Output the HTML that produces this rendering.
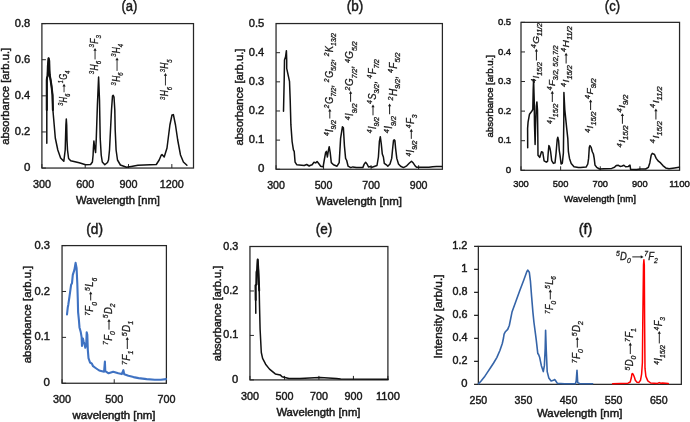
<!DOCTYPE html>
<html><head><meta charset="utf-8"><style>
html,body{margin:0;padding:0;background:#fff;}
svg{display:block;will-change:transform;filter:blur(0.3px);}
text{font-family:"Liberation Sans", sans-serif;stroke:#1a1a1a;stroke-width:0.45px;}
.an text{stroke-width:0.28px;}
</style></head><body>
<svg xmlns="http://www.w3.org/2000/svg" width="690" height="422" viewBox="0 0 690 422">
<rect width="690" height="422" fill="#fff"/>
<rect x="41.9" y="23.6" width="151.60" height="144.45" fill="none" stroke="#262626" stroke-width="1.25"/>
<line x1="41.90" y1="168.05" x2="45.90" y2="168.05" stroke="#262626" stroke-width="1"/>
<line x1="41.90" y1="131.94" x2="45.90" y2="131.94" stroke="#262626" stroke-width="1"/>
<line x1="41.90" y1="95.83" x2="45.90" y2="95.83" stroke="#262626" stroke-width="1"/>
<line x1="41.90" y1="59.71" x2="45.90" y2="59.71" stroke="#262626" stroke-width="1"/>
<line x1="41.90" y1="23.60" x2="45.90" y2="23.60" stroke="#262626" stroke-width="1"/>
<line x1="41.90" y1="168.05" x2="41.90" y2="164.05" stroke="#262626" stroke-width="1"/>
<line x1="85.21" y1="168.05" x2="85.21" y2="164.05" stroke="#262626" stroke-width="1"/>
<line x1="128.53" y1="168.05" x2="128.53" y2="164.05" stroke="#262626" stroke-width="1"/>
<line x1="171.84" y1="168.05" x2="171.84" y2="164.05" stroke="#262626" stroke-width="1"/>
<text x="30.30" y="171.16" font-size="11.5" text-anchor="end" fill="#1a1a1a">0</text>
<text x="30.30" y="135.04" font-size="11.5" text-anchor="end" fill="#1a1a1a" textLength="15.50" lengthAdjust="spacingAndGlyphs">0.2</text>
<text x="30.30" y="98.93" font-size="11.5" text-anchor="end" fill="#1a1a1a" textLength="15.50" lengthAdjust="spacingAndGlyphs">0.4</text>
<text x="30.30" y="62.82" font-size="11.5" text-anchor="end" fill="#1a1a1a" textLength="15.50" lengthAdjust="spacingAndGlyphs">0.6</text>
<text x="30.30" y="26.70" font-size="11.5" text-anchor="end" fill="#1a1a1a" textLength="15.50" lengthAdjust="spacingAndGlyphs">0.8</text>
<text x="41.90" y="187.50" font-size="11.5" text-anchor="middle" fill="#1a1a1a" textLength="18.00" lengthAdjust="spacingAndGlyphs">300</text>
<text x="85.21" y="187.50" font-size="11.5" text-anchor="middle" fill="#1a1a1a" textLength="18.00" lengthAdjust="spacingAndGlyphs">600</text>
<text x="128.53" y="187.50" font-size="11.5" text-anchor="middle" fill="#1a1a1a" textLength="18.00" lengthAdjust="spacingAndGlyphs">900</text>
<text x="171.84" y="187.50" font-size="11.5" text-anchor="middle" fill="#1a1a1a" textLength="24.00" lengthAdjust="spacingAndGlyphs">1200</text>
<text x="129.40" y="10.80" font-size="14" text-anchor="middle" fill="#1a1a1a" textLength="15.90" lengthAdjust="spacingAndGlyphs">(a)</text>
<text x="9.00" y="96.30" font-size="10.8" text-anchor="middle" fill="#1a1a1a" textLength="97.00" lengthAdjust="spacingAndGlyphs" transform="rotate(-90 9.00 96.30)">absorbance [arb.u.]</text>
<text x="118.00" y="203.90" font-size="10.2" text-anchor="middle" fill="#1a1a1a" textLength="84.00" lengthAdjust="spacingAndGlyphs">Wavelength [nm]</text>
<rect x="276.05" y="23.55" width="166.35" height="145.70" fill="none" stroke="#262626" stroke-width="1.25"/>
<line x1="276.05" y1="169.25" x2="280.05" y2="169.25" stroke="#262626" stroke-width="1"/>
<line x1="276.05" y1="140.11" x2="280.05" y2="140.11" stroke="#262626" stroke-width="1"/>
<line x1="276.05" y1="110.97" x2="280.05" y2="110.97" stroke="#262626" stroke-width="1"/>
<line x1="276.05" y1="81.83" x2="280.05" y2="81.83" stroke="#262626" stroke-width="1"/>
<line x1="276.05" y1="52.69" x2="280.05" y2="52.69" stroke="#262626" stroke-width="1"/>
<line x1="276.05" y1="23.55" x2="280.05" y2="23.55" stroke="#262626" stroke-width="1"/>
<line x1="276.05" y1="169.25" x2="276.05" y2="165.25" stroke="#262626" stroke-width="1"/>
<line x1="323.58" y1="169.25" x2="323.58" y2="165.25" stroke="#262626" stroke-width="1"/>
<line x1="371.11" y1="169.25" x2="371.11" y2="165.25" stroke="#262626" stroke-width="1"/>
<line x1="418.64" y1="169.25" x2="418.64" y2="165.25" stroke="#262626" stroke-width="1"/>
<text x="264.30" y="172.35" font-size="11.5" text-anchor="end" fill="#1a1a1a">0</text>
<text x="264.30" y="143.22" font-size="11.5" text-anchor="end" fill="#1a1a1a" textLength="15.50" lengthAdjust="spacingAndGlyphs">0.1</text>
<text x="264.30" y="114.08" font-size="11.5" text-anchor="end" fill="#1a1a1a" textLength="15.50" lengthAdjust="spacingAndGlyphs">0.2</text>
<text x="264.30" y="84.94" font-size="11.5" text-anchor="end" fill="#1a1a1a" textLength="15.50" lengthAdjust="spacingAndGlyphs">0.3</text>
<text x="264.30" y="55.80" font-size="11.5" text-anchor="end" fill="#1a1a1a" textLength="15.50" lengthAdjust="spacingAndGlyphs">0.4</text>
<text x="264.30" y="26.66" font-size="11.5" text-anchor="end" fill="#1a1a1a" textLength="15.50" lengthAdjust="spacingAndGlyphs">0.5</text>
<text x="276.05" y="188.50" font-size="11.5" text-anchor="middle" fill="#1a1a1a" textLength="17.70" lengthAdjust="spacingAndGlyphs">300</text>
<text x="323.58" y="188.50" font-size="11.5" text-anchor="middle" fill="#1a1a1a" textLength="17.70" lengthAdjust="spacingAndGlyphs">500</text>
<text x="371.11" y="188.50" font-size="11.5" text-anchor="middle" fill="#1a1a1a" textLength="17.70" lengthAdjust="spacingAndGlyphs">700</text>
<text x="418.64" y="188.50" font-size="11.5" text-anchor="middle" fill="#1a1a1a" textLength="17.70" lengthAdjust="spacingAndGlyphs">900</text>
<text x="355.00" y="11.00" font-size="14" text-anchor="middle" fill="#1a1a1a" textLength="16.50" lengthAdjust="spacingAndGlyphs">(b)</text>
<text x="243.40" y="97.00" font-size="10.8" text-anchor="middle" fill="#1a1a1a" textLength="97.00" lengthAdjust="spacingAndGlyphs" transform="rotate(-90 243.40 97.00)">absorbance [arb.u.]</text>
<text x="359.00" y="205.00" font-size="10.2" text-anchor="middle" fill="#1a1a1a" textLength="86.00" lengthAdjust="spacingAndGlyphs">Wavelength [nm]</text>
<rect x="521.0" y="22.35" width="158.55" height="147.95" fill="none" stroke="#262626" stroke-width="1.25"/>
<line x1="521.00" y1="170.30" x2="525.00" y2="170.30" stroke="#262626" stroke-width="1"/>
<line x1="521.00" y1="140.71" x2="525.00" y2="140.71" stroke="#262626" stroke-width="1"/>
<line x1="521.00" y1="111.12" x2="525.00" y2="111.12" stroke="#262626" stroke-width="1"/>
<line x1="521.00" y1="81.53" x2="525.00" y2="81.53" stroke="#262626" stroke-width="1"/>
<line x1="521.00" y1="51.94" x2="525.00" y2="51.94" stroke="#262626" stroke-width="1"/>
<line x1="521.00" y1="22.35" x2="525.00" y2="22.35" stroke="#262626" stroke-width="1"/>
<line x1="521.00" y1="170.30" x2="521.00" y2="166.30" stroke="#262626" stroke-width="1"/>
<line x1="560.64" y1="170.30" x2="560.64" y2="166.30" stroke="#262626" stroke-width="1"/>
<line x1="600.27" y1="170.30" x2="600.27" y2="166.30" stroke="#262626" stroke-width="1"/>
<line x1="639.91" y1="170.30" x2="639.91" y2="166.30" stroke="#262626" stroke-width="1"/>
<line x1="679.55" y1="170.30" x2="679.55" y2="166.30" stroke="#262626" stroke-width="1"/>
<text x="511.20" y="172.95" font-size="9.8" text-anchor="end" fill="#1a1a1a">0</text>
<text x="511.20" y="143.36" font-size="9.8" text-anchor="end" fill="#1a1a1a" textLength="13.30" lengthAdjust="spacingAndGlyphs">0.1</text>
<text x="511.20" y="113.77" font-size="9.8" text-anchor="end" fill="#1a1a1a" textLength="13.30" lengthAdjust="spacingAndGlyphs">0.2</text>
<text x="511.20" y="84.18" font-size="9.8" text-anchor="end" fill="#1a1a1a" textLength="13.30" lengthAdjust="spacingAndGlyphs">0.3</text>
<text x="511.20" y="54.59" font-size="9.8" text-anchor="end" fill="#1a1a1a" textLength="13.30" lengthAdjust="spacingAndGlyphs">0.4</text>
<text x="511.20" y="25.00" font-size="9.8" text-anchor="end" fill="#1a1a1a" textLength="13.30" lengthAdjust="spacingAndGlyphs">0.5</text>
<text x="521.00" y="186.60" font-size="9.8" text-anchor="middle" fill="#1a1a1a" textLength="15.60" lengthAdjust="spacingAndGlyphs">300</text>
<text x="560.64" y="186.60" font-size="9.8" text-anchor="middle" fill="#1a1a1a" textLength="15.60" lengthAdjust="spacingAndGlyphs">500</text>
<text x="600.27" y="186.60" font-size="9.8" text-anchor="middle" fill="#1a1a1a" textLength="15.60" lengthAdjust="spacingAndGlyphs">700</text>
<text x="639.91" y="186.60" font-size="9.8" text-anchor="middle" fill="#1a1a1a" textLength="15.60" lengthAdjust="spacingAndGlyphs">900</text>
<text x="679.55" y="186.60" font-size="9.8" text-anchor="middle" fill="#1a1a1a" textLength="20.80" lengthAdjust="spacingAndGlyphs">1100</text>
<text x="612.40" y="11.00" font-size="14" text-anchor="middle" fill="#1a1a1a" textLength="15.20" lengthAdjust="spacingAndGlyphs">(c)</text>
<text x="492.60" y="96.30" font-size="9.4" text-anchor="middle" fill="#1a1a1a" textLength="82.30" lengthAdjust="spacingAndGlyphs" transform="rotate(-90 492.60 96.30)">absorbance [arb.u.]</text>
<text x="600.00" y="202.00" font-size="8.8" text-anchor="middle" fill="#1a1a1a" textLength="72.00" lengthAdjust="spacingAndGlyphs">Wavelength [nm]</text>
<rect x="62.05" y="245.6" width="104.35" height="137.65" fill="none" stroke="#262626" stroke-width="1.25"/>
<line x1="62.05" y1="383.25" x2="66.05" y2="383.25" stroke="#262626" stroke-width="1"/>
<line x1="62.05" y1="337.37" x2="66.05" y2="337.37" stroke="#262626" stroke-width="1"/>
<line x1="62.05" y1="291.48" x2="66.05" y2="291.48" stroke="#262626" stroke-width="1"/>
<line x1="62.05" y1="245.60" x2="66.05" y2="245.60" stroke="#262626" stroke-width="1"/>
<line x1="62.05" y1="383.25" x2="62.05" y2="379.25" stroke="#262626" stroke-width="1"/>
<line x1="114.22" y1="383.25" x2="114.22" y2="379.25" stroke="#262626" stroke-width="1"/>
<line x1="166.40" y1="383.25" x2="166.40" y2="379.25" stroke="#262626" stroke-width="1"/>
<text x="50.00" y="386.36" font-size="11.5" text-anchor="end" fill="#1a1a1a">0</text>
<text x="50.00" y="340.47" font-size="11.5" text-anchor="end" fill="#1a1a1a" textLength="15.50" lengthAdjust="spacingAndGlyphs">0.1</text>
<text x="50.00" y="294.59" font-size="11.5" text-anchor="end" fill="#1a1a1a" textLength="15.50" lengthAdjust="spacingAndGlyphs">0.2</text>
<text x="50.00" y="248.70" font-size="11.5" text-anchor="end" fill="#1a1a1a" textLength="15.50" lengthAdjust="spacingAndGlyphs">0.3</text>
<text x="62.05" y="402.80" font-size="11.5" text-anchor="middle" fill="#1a1a1a" textLength="18.00" lengthAdjust="spacingAndGlyphs">300</text>
<text x="114.22" y="402.80" font-size="11.5" text-anchor="middle" fill="#1a1a1a" textLength="18.00" lengthAdjust="spacingAndGlyphs">500</text>
<text x="166.40" y="402.80" font-size="11.5" text-anchor="middle" fill="#1a1a1a" textLength="18.00" lengthAdjust="spacingAndGlyphs">700</text>
<text x="94.60" y="233.90" font-size="14" text-anchor="middle" fill="#1a1a1a" textLength="16.70" lengthAdjust="spacingAndGlyphs">(d)</text>
<text x="31.00" y="314.50" font-size="10.8" text-anchor="middle" fill="#1a1a1a" textLength="97.40" lengthAdjust="spacingAndGlyphs" transform="rotate(-90 31.00 314.50)">absorbance [arb.u.]</text>
<text x="114.00" y="418.70" font-size="10.2" text-anchor="middle" fill="#1a1a1a" textLength="83.00" lengthAdjust="spacingAndGlyphs">wavelength [nm]</text>
<rect x="249.95" y="246.5" width="137.95" height="133.40" fill="none" stroke="#262626" stroke-width="1.25"/>
<line x1="249.95" y1="379.90" x2="253.95" y2="379.90" stroke="#262626" stroke-width="1"/>
<line x1="249.95" y1="335.43" x2="253.95" y2="335.43" stroke="#262626" stroke-width="1"/>
<line x1="249.95" y1="290.97" x2="253.95" y2="290.97" stroke="#262626" stroke-width="1"/>
<line x1="249.95" y1="246.50" x2="253.95" y2="246.50" stroke="#262626" stroke-width="1"/>
<line x1="249.95" y1="379.90" x2="249.95" y2="375.90" stroke="#262626" stroke-width="1"/>
<line x1="284.44" y1="379.90" x2="284.44" y2="375.90" stroke="#262626" stroke-width="1"/>
<line x1="318.92" y1="379.90" x2="318.92" y2="375.90" stroke="#262626" stroke-width="1"/>
<line x1="353.41" y1="379.90" x2="353.41" y2="375.90" stroke="#262626" stroke-width="1"/>
<line x1="387.90" y1="379.90" x2="387.90" y2="375.90" stroke="#262626" stroke-width="1"/>
<text x="238.30" y="382.92" font-size="11.2" text-anchor="end" fill="#1a1a1a">0</text>
<text x="238.30" y="338.46" font-size="11.2" text-anchor="end" fill="#1a1a1a" textLength="15.00" lengthAdjust="spacingAndGlyphs">0.1</text>
<text x="238.30" y="293.99" font-size="11.2" text-anchor="end" fill="#1a1a1a" textLength="15.00" lengthAdjust="spacingAndGlyphs">0.2</text>
<text x="238.30" y="249.52" font-size="11.2" text-anchor="end" fill="#1a1a1a" textLength="15.00" lengthAdjust="spacingAndGlyphs">0.3</text>
<text x="249.95" y="400.00" font-size="11.2" text-anchor="middle" fill="#1a1a1a" textLength="18.00" lengthAdjust="spacingAndGlyphs">300</text>
<text x="284.44" y="400.00" font-size="11.2" text-anchor="middle" fill="#1a1a1a" textLength="18.00" lengthAdjust="spacingAndGlyphs">500</text>
<text x="318.92" y="400.00" font-size="11.2" text-anchor="middle" fill="#1a1a1a" textLength="18.00" lengthAdjust="spacingAndGlyphs">700</text>
<text x="353.41" y="400.00" font-size="11.2" text-anchor="middle" fill="#1a1a1a" textLength="18.00" lengthAdjust="spacingAndGlyphs">900</text>
<text x="387.90" y="400.00" font-size="11.2" text-anchor="middle" fill="#1a1a1a" textLength="24.00" lengthAdjust="spacingAndGlyphs">1100</text>
<text x="324.00" y="233.50" font-size="14" text-anchor="middle" fill="#1a1a1a" textLength="16.50" lengthAdjust="spacingAndGlyphs">(e)</text>
<text x="220.60" y="313.50" font-size="10.8" text-anchor="middle" fill="#1a1a1a" textLength="95.50" lengthAdjust="spacingAndGlyphs" transform="rotate(-90 220.60 313.50)">absorbance [arb.u.]</text>
<text x="318.40" y="416.30" font-size="10.2" text-anchor="middle" fill="#1a1a1a" textLength="84.00" lengthAdjust="spacingAndGlyphs">Wavelength [nm]</text>
<rect x="478.35" y="246.35" width="203.00" height="138.00" fill="none" stroke="#262626" stroke-width="1.25"/>
<line x1="474.05" y1="384.35" x2="478.35" y2="384.35" stroke="#262626" stroke-width="1.25"/>
<line x1="474.05" y1="361.35" x2="478.35" y2="361.35" stroke="#262626" stroke-width="1.25"/>
<line x1="474.05" y1="338.35" x2="478.35" y2="338.35" stroke="#262626" stroke-width="1.25"/>
<line x1="474.05" y1="315.35" x2="478.35" y2="315.35" stroke="#262626" stroke-width="1.25"/>
<line x1="474.05" y1="292.35" x2="478.35" y2="292.35" stroke="#262626" stroke-width="1.25"/>
<line x1="474.05" y1="269.35" x2="478.35" y2="269.35" stroke="#262626" stroke-width="1.25"/>
<line x1="474.05" y1="246.35" x2="478.35" y2="246.35" stroke="#262626" stroke-width="1.25"/>
<text x="467.40" y="387.37" font-size="11.2" text-anchor="end" fill="#1a1a1a">0</text>
<text x="467.40" y="364.37" font-size="11.2" text-anchor="end" fill="#1a1a1a" textLength="15.00" lengthAdjust="spacingAndGlyphs">0.2</text>
<text x="467.40" y="341.37" font-size="11.2" text-anchor="end" fill="#1a1a1a" textLength="15.00" lengthAdjust="spacingAndGlyphs">0.4</text>
<text x="467.40" y="318.37" font-size="11.2" text-anchor="end" fill="#1a1a1a" textLength="15.00" lengthAdjust="spacingAndGlyphs">0.6</text>
<text x="467.40" y="295.37" font-size="11.2" text-anchor="end" fill="#1a1a1a" textLength="15.00" lengthAdjust="spacingAndGlyphs">0.8</text>
<text x="467.40" y="272.37" font-size="11.2" text-anchor="end" fill="#1a1a1a">1</text>
<text x="467.40" y="249.37" font-size="11.2" text-anchor="end" fill="#1a1a1a" textLength="15.20" lengthAdjust="spacingAndGlyphs">1.2</text>
<text x="478.35" y="403.50" font-size="11.2" text-anchor="middle" fill="#1a1a1a" textLength="17.70" lengthAdjust="spacingAndGlyphs">250</text>
<text x="523.46" y="403.50" font-size="11.2" text-anchor="middle" fill="#1a1a1a" textLength="17.70" lengthAdjust="spacingAndGlyphs">350</text>
<text x="568.57" y="403.50" font-size="11.2" text-anchor="middle" fill="#1a1a1a" textLength="17.70" lengthAdjust="spacingAndGlyphs">450</text>
<text x="613.68" y="403.50" font-size="11.2" text-anchor="middle" fill="#1a1a1a" textLength="17.70" lengthAdjust="spacingAndGlyphs">550</text>
<text x="658.79" y="403.50" font-size="11.2" text-anchor="middle" fill="#1a1a1a" textLength="17.70" lengthAdjust="spacingAndGlyphs">650</text>
<text x="585.50" y="233.50" font-size="14" text-anchor="middle" fill="#1a1a1a" textLength="13.60" lengthAdjust="spacingAndGlyphs">(f)</text>
<text x="442.00" y="316.50" font-size="10.8" text-anchor="middle" fill="#1a1a1a" textLength="84.00" lengthAdjust="spacingAndGlyphs" transform="rotate(-90 442.00 316.50)">Intensity [arb/u.]</text>
<text x="579.70" y="417.00" font-size="10.2" text-anchor="middle" fill="#1a1a1a" textLength="85.40" lengthAdjust="spacingAndGlyphs">Wavelength [nm]</text>
<path d="M46.8,143.3 L46.8,80.0 L47.0,78.0 L47.6,76.0 L47.9,66.0 L48.6,58.3 L49.2,61.0 L49.4,70.0 L49.7,75.0 L50.6,80.0 L51.5,86.0 L52.5,95.0 L52.9,110.0 L54.2,125.0 L55.3,138.0 L57.8,150.0 L60.6,158.0 L63.8,161.3 L65.2,150.0 L65.9,125.0 L66.3,119.0 L66.7,125.0 L67.0,140.0 L67.5,150.0 L68.6,158.5 L70.7,160.8 L79.2,162.8 L85.6,164.7 L90.6,164.5 L92.4,162.0 L93.1,155.0 L93.4,148.0 L93.9,141.0 L94.6,147.0 L95.6,152.5 L96.3,138.0 L97.4,105.0 L98.6,77.0 L99.5,100.0 L100.2,138.0 L101.2,155.0 L102.3,162.0 L104.8,164.8 L107.5,162.5 L108.5,160.0 L109.5,150.0 L110.5,130.0 L111.5,110.0 L112.5,96.0 L113.2,95.2 L114.0,97.0 L114.8,110.0 L115.2,130.0 L116.1,150.0 L117.5,160.0 L120.4,165.0 L126.5,167.3 L131.3,166.5 L137.9,165.3 L156.3,164.5 L159.2,160.0 L161.3,155.0 L162.0,154.5 L164.2,157.0 L167.0,148.0 L169.9,125.0 L172.0,115.0 L173.4,114.6 L175.5,125.0 L177.7,140.0 L180.5,155.0 L183.4,162.0 L186.9,165.3" fill="none" stroke="#111" stroke-width="1.5" stroke-linejoin="round" stroke-linecap="round"/>
<path d="M46.8,110.0 L46.8,80.0 L47.0,78.0 L47.6,76.0 L47.9,66.0 L48.6,58.3 L49.2,61.0 L49.4,70.0 L49.7,75.0 L50.6,80.0 L51.5,86.0 L52.5,95.0 L52.9,110.0" fill="none" stroke="#111" stroke-width="2.1" stroke-linejoin="round" stroke-linecap="round"/>
<path d="M283.5,111.3 L284.2,80.0 L284.5,60.0 L285.5,57.0 L286.4,50.7 L286.7,60.0 L286.7,68.4 L289.5,81.3 L290.2,100.0 L290.9,124.9 L292.1,141.5 L293.4,149.8 L294.2,151.4 L295.1,162.2 L296.7,164.7 L304.2,165.5 L306.7,164.5 L309.2,166.0 L310.0,165.5 L312.1,164.8 L314.0,162.3 L315.7,162.9 L317.1,161.5 L318.5,163.3 L320.7,166.2 L323.1,166.9 L324.2,160.5 L325.6,152.7 L326.4,151.3 L327.4,157.0 L328.5,149.8 L329.2,146.7 L330.2,152.7 L331.3,162.6 L333.5,164.8 L337.0,166.2 L339.2,162.6 L340.6,138.4 L342.4,126.8 L343.4,127.8 L344.4,145.6 L345.6,158.4 L346.7,160.5 L348.1,166.2 L350.7,167.6 L352.8,166.9 L356.4,167.6 L362.8,167.6 L364.2,164.1 L365.6,162.3 L367.0,164.0 L368.5,166.9 L370.6,166.6 L372.0,167.3 L377.0,165.5 L378.4,157.0 L379.4,141.3 L380.3,136.7 L381.3,144.1 L382.3,154.1 L383.4,157.0 L384.3,163.3 L386.4,164.8 L387.8,166.2 L390.0,164.0 L391.7,158.4 L392.8,147.0 L393.5,140.6 L394.2,139.9 L394.9,140.6 L395.6,148.4 L396.8,158.4 L398.5,164.0 L400.6,166.2 L403.5,167.6 L406.3,166.2 L409.2,163.3 L411.5,161.2 L413.0,162.7 L415.3,166.1 L416.8,167.3 L428.9,167.3 L432.7,166.7 L436.5,166.5 L441.8,166.4" fill="none" stroke="#111" stroke-width="1.5" stroke-linejoin="round" stroke-linecap="round"/>
<path d="M527.7,147.7 L527.6,128.4 L528.1,121.8 L529.5,114.2 L531.4,111.8 L532.8,109.5 L533.2,90.0 L533.6,79.5 L534.2,100.0 L534.5,125.0 L535.1,144.6 L535.6,125.0 L536.3,106.0 L536.9,101.9 L537.5,110.0 L537.8,135.0 L538.0,155.2 L539.7,157.4 L541.5,151.7 L542.8,152.5 L544.1,160.9 L546.3,162.2 L547.6,161.3 L548.3,151.7 L548.9,145.6 L549.5,146.7 L550.0,148.4 L550.6,151.7 L551.7,160.6 L553.4,163.4 L555.0,162.9 L556.1,152.8 L557.2,139.5 L557.8,137.2 L558.6,140.6 L559.3,150.6 L560.0,155.1 L561.1,164.0 L562.3,163.4 L563.4,152.8 L563.8,120.0 L563.9,92.4 L564.8,109.6 L566.6,127.4 L567.8,138.4 L568.4,151.7 L569.5,158.4 L571.2,163.4 L574.0,166.8 L578.4,167.5 L580.6,167.5 L586.1,167.1 L587.8,164.0 L588.6,158.4 L589.3,147.3 L590.0,145.6 L591.1,147.3 L592.3,151.7 L593.4,154.0 L594.2,158.4 L595.0,165.1 L596.7,167.3 L599.5,169.0 L604.0,168.7 L611.7,168.4 L614.5,167.3 L616.2,165.6 L618.4,165.3 L620.1,166.4 L622.2,166.0 L623.9,165.3 L625.6,166.8 L628.4,166.4 L630.0,165.1 L630.6,169.3 L636.7,169.5 L640.0,169.0 L645.6,169.0 L648.4,167.3 L649.8,162.9 L651.2,155.1 L652.3,153.4 L654.5,154.5 L656.2,158.4 L658.4,161.2 L660.6,162.9 L662.9,165.6 L665.7,167.9 L669.0,168.7 L674.6,167.9 L679.0,167.3" fill="none" stroke="#111" stroke-width="1.5" stroke-linejoin="round" stroke-linecap="round"/>
<path d="M67.0,314.5 L67.8,307.2 L68.3,304.7 L69.5,296.4 L71.1,284.8 L72.0,283.2 L72.8,274.9 L74.4,269.9 L75.6,262.9 L76.6,268.2 L77.3,283.2 L77.8,299.8 L78.1,312.1 L78.9,320.0 L79.5,327.4 L80.8,332.3 L81.6,337.2 L82.0,345.9 L82.9,338.5 L83.6,341.6 L84.5,344.0 L85.3,347.7 L86.3,342.8 L86.7,332.3 L87.3,334.8 L87.8,349.6 L88.5,358.2 L90.0,362.5 L91.9,363.7 L93.1,366.2 L95.6,368.0 L99.2,370.5 L102.1,371.2 L104.1,371.7 L104.9,361.6 L105.3,371.2 L108.6,373.3 L113.2,371.7 L118.3,373.3 L121.8,374.1 L123.4,370.2 L124.2,374.3 L128.4,375.8 L133.5,377.1 L138.6,378.1 L146.7,379.1 L154.8,379.8 L160.9,379.8 L166.0,379.1" fill="none" stroke="#3F72C2" stroke-width="2.1" stroke-linejoin="round" stroke-linecap="round"/>
<path d="M255.8,313.2 L255.6,285.2 L256.4,284.5 L256.6,272.0 L257.2,269.5 L257.7,259.5 L258.3,269.2 L259.2,290.5 L259.5,305.0 L260.1,329.2 L261.3,352.5 L262.6,358.4 L265.6,364.2 L269.5,369.1 L275.3,373.9 L280.2,374.9 L282.1,376.8 L288.9,378.4 L300.0,378.6 L314.6,377.7 L320.0,377.5 L336.4,378.6 L340.7,379.1 L388.0,379.2" fill="none" stroke="#111" stroke-width="1.5" stroke-linejoin="round" stroke-linecap="round"/>
<path d="M255.7,300.0 L255.6,285.2 L256.4,284.5 L256.6,272.0 L257.2,269.5 L257.7,259.5 L258.3,269.2 L259.2,290.5" fill="none" stroke="#111" stroke-width="2.0" stroke-linejoin="round" stroke-linecap="round"/>
<path d="M478.6,383.6 L481.1,381.0 L484.3,377.1 L487.4,372.4 L490.5,367.7 L493.6,363.0 L496.8,357.6 L499.9,350.5 L502.3,343.5 L503.5,338.0 L504.1,334.1 L505.4,331.7 L507.7,329.4 L509.3,325.5 L512.0,312.1 L516.0,301.1 L519.9,290.2 L523.8,280.0 L526.6,272.2 L527.7,270.1 L529.3,272.2 L530.4,280.8 L531.6,296.4 L532.9,312.1 L533.9,322.0 L535.5,334.1 L536.3,340.3 L537.8,353.6 L538.6,354.4 L539.7,357.6 L541.3,365.4 L543.3,371.6 L544.4,365.4 L545.2,348.2 L545.6,330.2 L546.3,351.3 L547.2,371.6 L548.8,377.9 L551.1,381.0 L553.5,380.3 L554.7,379.5 L555.8,381.0 L557.4,383.4 L564.4,383.8 L575.4,383.8 L576.2,381.0 L577.0,370.2 L577.7,382.6 L580.0,383.8 L592.6,383.8" fill="none" stroke="#3564A8" stroke-width="1.6" stroke-linejoin="round" stroke-linecap="round"/>
<path d="M612.6,383.7 L628.0,383.2 L630.2,382.0 L631.4,377.5 L631.9,374.1 L632.5,373.5 L633.6,375.2 L634.5,377.5 L635.3,380.3 L637.0,382.3 L638.8,382.6 L640.5,380.3 L641.6,374.1 L642.4,362.7 L642.8,320.0 L643.5,265.0 L643.9,259.7 L644.3,265.0 L644.6,320.0 L645.0,368.4 L645.9,376.4 L647.8,380.9 L650.7,383.0 L657.5,383.4 L659.2,382.6 L660.9,383.2 L662.6,383.0 L668.3,383.4" fill="none" stroke="#FF0000" stroke-width="1.5" stroke-linejoin="round" stroke-linecap="round"/>
<g transform="translate(66.80,105.80) rotate(-90) scale(0.7545,1)" fill="#1a1a1a" class="an">
<text x="0.00" y="-3.37" font-size="7.34" font-style="italic">3</text>
<text x="4.49" y="0" font-size="10.2" font-style="italic">H</text>
<text x="11.86" y="3.47" font-size="7.34" font-style="italic">6</text>
<line x1="17.94" y1="-2.75" x2="26.98" y2="-2.75" stroke="#1a1a1a" stroke-width="1.0"/>
<path d="M29.21,-2.75 L25.50,-4.35 L25.50,-1.15 Z"/>
<text x="30.00" y="-3.37" font-size="7.34" font-style="italic">1</text>
<text x="34.49" y="0" font-size="10.2" font-style="italic">G</text>
<text x="42.43" y="3.47" font-size="7.34" font-style="italic">4</text>
</g>
<g transform="translate(97.80,74.20) rotate(-90) scale(0.8301,1)" fill="#1a1a1a" class="an">
<text x="0.00" y="-3.37" font-size="7.34" font-style="italic">3</text>
<text x="4.49" y="0" font-size="10.2" font-style="italic">H</text>
<text x="11.86" y="3.47" font-size="7.34" font-style="italic">6</text>
<line x1="17.80" y1="-2.75" x2="29.51" y2="-2.75" stroke="#1a1a1a" stroke-width="1.0"/>
<path d="M31.53,-2.75 L28.16,-4.35 L28.16,-1.15 Z"/>
<text x="32.25" y="-3.37" font-size="7.34" font-style="italic">3</text>
<text x="36.74" y="0" font-size="10.2" font-style="italic">F</text>
<text x="42.97" y="3.47" font-size="7.34" font-style="italic">3</text>
</g>
<g transform="translate(119.80,85.40) rotate(-90) scale(0.8134,1)" fill="#1a1a1a" class="an">
<text x="0.00" y="-3.37" font-size="7.34" font-style="italic">3</text>
<text x="4.49" y="0" font-size="10.2" font-style="italic">H</text>
<text x="11.86" y="3.47" font-size="7.34" font-style="italic">6</text>
<line x1="17.83" y1="-2.75" x2="32.36" y2="-2.75" stroke="#1a1a1a" stroke-width="1.0"/>
<path d="M34.42,-2.75 L30.98,-4.35 L30.98,-1.15 Z"/>
<text x="35.16" y="-3.37" font-size="7.34" font-style="italic">3</text>
<text x="39.65" y="0" font-size="10.2" font-style="italic">H</text>
<text x="47.02" y="3.47" font-size="7.34" font-style="italic">4</text>
</g>
<g transform="translate(168.20,100.00) rotate(-90) scale(0.8165,1)" fill="#1a1a1a" class="an">
<text x="0.00" y="-3.37" font-size="7.34" font-style="italic">3</text>
<text x="4.49" y="0" font-size="10.2" font-style="italic">H</text>
<text x="11.86" y="3.47" font-size="7.34" font-style="italic">6</text>
<line x1="17.82" y1="-2.75" x2="31.07" y2="-2.75" stroke="#1a1a1a" stroke-width="1.0"/>
<path d="M33.13,-2.75 L29.70,-4.35 L29.70,-1.15 Z"/>
<text x="33.86" y="-3.37" font-size="7.34" font-style="italic">3</text>
<text x="38.36" y="0" font-size="10.2" font-style="italic">H</text>
<text x="45.72" y="3.47" font-size="7.34" font-style="italic">5</text>
</g>
<g transform="translate(332.50,136.10) rotate(-90) scale(0.9321,1)" fill="#1a1a1a" class="an">
<text x="0.00" y="-3.30" font-size="7.20" font-style="italic">4</text>
<text x="4.40" y="0" font-size="10" font-style="italic">I</text>
<text x="7.18" y="3.40" font-size="7.20" font-style="italic">9/2</text>
<line x1="18.88" y1="-2.70" x2="27.48" y2="-2.70" stroke="#1a1a1a" stroke-width="1.0"/>
<path d="M29.28,-2.70 L26.28,-4.30 L26.28,-1.10 Z"/>
<text x="29.93" y="-3.30" font-size="7.20" font-style="italic">2</text>
<text x="34.33" y="0" font-size="10" font-style="italic">G</text>
<text x="42.11" y="3.40" font-size="7.20" font-style="italic">7/2</text>
<text x="52.52" y="0" font-size="10" font-style="italic">,</text>
<text x="57.80" y="-3.30" font-size="7.20" font-style="italic">2</text>
<text x="62.20" y="0" font-size="10" font-style="italic">G</text>
<text x="69.98" y="3.40" font-size="7.20" font-style="italic">5/2</text>
<text x="80.39" y="0" font-size="10" font-style="italic">,</text>
<text x="85.66" y="-3.30" font-size="7.20" font-style="italic">2</text>
<text x="90.07" y="0" font-size="10" font-style="italic">K</text>
<text x="96.74" y="3.40" font-size="7.20" font-style="italic">13/2</text>
</g>
<g transform="translate(353.30,120.30) rotate(-90) scale(0.9831,1)" fill="#1a1a1a" class="an">
<text x="0.00" y="-3.30" font-size="7.20" font-style="italic">4</text>
<text x="4.40" y="0" font-size="10" font-style="italic">I</text>
<text x="7.18" y="3.40" font-size="7.20" font-style="italic">9/2</text>
<line x1="18.81" y1="-2.70" x2="28.09" y2="-2.70" stroke="#1a1a1a" stroke-width="1.0"/>
<path d="M29.80,-2.70 L26.95,-4.30 L26.95,-1.10 Z"/>
<text x="30.41" y="-3.30" font-size="7.20" font-style="italic">2</text>
<text x="34.81" y="0" font-size="10" font-style="italic">G</text>
<text x="42.59" y="3.40" font-size="7.20" font-style="italic">7/2</text>
<text x="53.00" y="0" font-size="10" font-style="italic">,</text>
<text x="58.27" y="-3.30" font-size="7.20" font-style="italic">4</text>
<text x="62.68" y="0" font-size="10" font-style="italic">G</text>
<text x="70.46" y="3.40" font-size="7.20" font-style="italic">5/2</text>
</g>
<g transform="translate(375.70,133.20) rotate(-90) scale(0.9484,1)" fill="#1a1a1a" class="an">
<text x="0.00" y="-3.30" font-size="7.20" font-style="italic">4</text>
<text x="4.40" y="0" font-size="10" font-style="italic">I</text>
<text x="7.18" y="3.40" font-size="7.20" font-style="italic">9/2</text>
<line x1="18.86" y1="-2.70" x2="28.47" y2="-2.70" stroke="#1a1a1a" stroke-width="1.0"/>
<path d="M30.24,-2.70 L27.29,-4.30 L27.29,-1.10 Z"/>
<text x="30.88" y="-3.30" font-size="7.20" font-style="italic">4</text>
<text x="35.28" y="0" font-size="10" font-style="italic">S</text>
<text x="41.95" y="3.40" font-size="7.20" font-style="italic">3/2</text>
<text x="52.36" y="0" font-size="10" font-style="italic">,</text>
<text x="57.64" y="-3.30" font-size="7.20" font-style="italic">4</text>
<text x="62.04" y="0" font-size="10" font-style="italic">F</text>
<text x="68.15" y="3.40" font-size="7.20" font-style="italic">7/2</text>
</g>
<g transform="translate(392.30,133.20) rotate(-90) scale(1.0042,1)" fill="#1a1a1a" class="an">
<text x="0.00" y="-3.30" font-size="7.20" font-style="italic">4</text>
<text x="4.40" y="0" font-size="10" font-style="italic">I</text>
<text x="7.18" y="3.40" font-size="7.20" font-style="italic">9/2</text>
<line x1="18.78" y1="-2.70" x2="27.87" y2="-2.70" stroke="#1a1a1a" stroke-width="1.0"/>
<path d="M29.54,-2.70 L26.75,-4.30 L26.75,-1.10 Z"/>
<g transform="translate(0,4.20)">
<text x="32.53" y="-3.30" font-size="7.20" font-style="italic">2</text>
<text x="36.93" y="0" font-size="10" font-style="italic">H</text>
<text x="44.15" y="3.40" font-size="7.20" font-style="italic">9/2</text>
<text x="54.56" y="0" font-size="10" font-style="italic">,</text>
<text x="59.84" y="-3.30" font-size="7.20" font-style="italic">4</text>
<text x="64.24" y="0" font-size="10" font-style="italic">F</text>
<text x="70.35" y="3.40" font-size="7.20" font-style="italic">5/2</text>
</g>
</g>
<g transform="translate(414.00,156.60) rotate(-90) scale(0.9414,1)" fill="#1a1a1a" class="an">
<text x="0.00" y="-3.30" font-size="7.20" font-style="italic">4</text>
<text x="4.40" y="0" font-size="10" font-style="italic">I</text>
<text x="7.18" y="3.40" font-size="7.20" font-style="italic">9/2</text>
<line x1="18.86" y1="-2.70" x2="27.70" y2="-2.70" stroke="#1a1a1a" stroke-width="1.0"/>
<path d="M29.49,-2.70 L26.51,-4.30 L26.51,-1.10 Z"/>
<text x="30.12" y="-3.30" font-size="7.20" font-style="italic">4</text>
<text x="34.53" y="0" font-size="10" font-style="italic">F</text>
<text x="40.64" y="3.40" font-size="7.20" font-style="italic">3</text>
</g>
<g transform="translate(539.00,82.80) rotate(-90) scale(1.0208,1)" fill="#1a1a1a" class="an">
<text x="0.00" y="-3.17" font-size="6.91" font-style="italic">4</text>
<text x="4.23" y="0" font-size="9.6" font-style="italic">I</text>
<text x="6.89" y="3.26" font-size="6.91" font-style="italic">15/2</text>
<line x1="21.91" y1="-2.59" x2="31.72" y2="-2.59" stroke="#1a1a1a" stroke-width="1.0"/>
<path d="M33.37,-2.59 L30.62,-4.19 L30.62,-0.99 Z"/>
<text x="33.95" y="-3.17" font-size="6.91" font-style="italic">4</text>
<text x="38.18" y="0" font-size="9.6" font-style="italic">G</text>
<text x="45.65" y="3.26" font-size="6.91" font-style="italic">11/2</text>
</g>
<g transform="translate(554.90,124.10) rotate(-90) scale(1.0047,1)" fill="#1a1a1a" class="an">
<text x="0.00" y="-3.17" font-size="6.91" font-style="italic">4</text>
<text x="4.23" y="0" font-size="9.6" font-style="italic">I</text>
<text x="6.89" y="3.26" font-size="6.91" font-style="italic">15/2</text>
<line x1="21.92" y1="-2.59" x2="31.40" y2="-2.59" stroke="#1a1a1a" stroke-width="1.0"/>
<path d="M33.07,-2.59 L30.28,-4.19 L30.28,-0.99 Z"/>
<text x="33.67" y="-3.17" font-size="6.91" font-style="italic">4</text>
<text x="37.90" y="0" font-size="9.6" font-style="italic">F</text>
<text x="43.76" y="3.26" font-size="6.91" font-style="italic">3/2, 5/2,7/2</text>
</g>
<g transform="translate(568.70,87.00) rotate(-90) scale(1.0727,1)" fill="#1a1a1a" class="an">
<text x="0.00" y="-3.17" font-size="6.91" font-style="italic">4</text>
<text x="4.23" y="0" font-size="9.6" font-style="italic">I</text>
<text x="6.89" y="3.26" font-size="6.91" font-style="italic">15/2</text>
<line x1="21.85" y1="-2.59" x2="30.44" y2="-2.59" stroke="#1a1a1a" stroke-width="1.0"/>
<path d="M32.01,-2.59 L29.40,-4.19 L29.40,-0.99 Z"/>
<text x="32.57" y="-3.17" font-size="6.91" font-style="italic">4</text>
<text x="36.80" y="0" font-size="9.6" font-style="italic">H</text>
<text x="43.73" y="3.26" font-size="6.91" font-style="italic">11/2</text>
</g>
<g transform="translate(593.20,132.80) rotate(-90) scale(1.0438,1)" fill="#1a1a1a" class="an">
<text x="0.00" y="-3.17" font-size="6.91" font-style="italic">4</text>
<text x="4.23" y="0" font-size="9.6" font-style="italic">I</text>
<text x="6.89" y="3.26" font-size="6.91" font-style="italic">15/2</text>
<line x1="21.88" y1="-2.59" x2="30.33" y2="-2.59" stroke="#1a1a1a" stroke-width="1.0"/>
<path d="M31.94,-2.59 L29.26,-4.19 L29.26,-0.99 Z"/>
<text x="32.51" y="-3.17" font-size="6.91" font-style="italic">4</text>
<text x="36.74" y="0" font-size="9.6" font-style="italic">F</text>
<text x="42.61" y="3.26" font-size="6.91" font-style="italic">9/2</text>
</g>
<g transform="translate(625.00,147.40) rotate(-90) scale(1.0873,1)" fill="#1a1a1a" class="an">
<text x="0.00" y="-3.17" font-size="6.91" font-style="italic">4</text>
<text x="4.23" y="0" font-size="9.6" font-style="italic">I</text>
<text x="6.89" y="3.26" font-size="6.91" font-style="italic">15/2</text>
<line x1="21.83" y1="-2.59" x2="29.95" y2="-2.59" stroke="#1a1a1a" stroke-width="1.0"/>
<path d="M31.49,-2.59 L28.92,-4.19 L28.92,-0.99 Z"/>
<text x="32.04" y="-3.17" font-size="6.91" font-style="italic">4</text>
<text x="36.27" y="0" font-size="9.6" font-style="italic">I</text>
<text x="38.94" y="3.26" font-size="6.91" font-style="italic">9/2</text>
</g>
<g transform="translate(658.50,143.20) rotate(-90) scale(1.0868,1)" fill="#1a1a1a" class="an">
<text x="0.00" y="-3.17" font-size="6.91" font-style="italic">4</text>
<text x="4.23" y="0" font-size="9.6" font-style="italic">I</text>
<text x="6.89" y="3.26" font-size="6.91" font-style="italic">15/2</text>
<line x1="21.83" y1="-2.59" x2="30.41" y2="-2.59" stroke="#1a1a1a" stroke-width="1.0"/>
<path d="M31.96,-2.59 L29.38,-4.19 L29.38,-0.99 Z"/>
<text x="32.51" y="-3.17" font-size="6.91" font-style="italic">4</text>
<text x="36.74" y="0" font-size="9.6" font-style="italic">I</text>
<text x="39.40" y="3.26" font-size="6.91" font-style="italic">11/2</text>
</g>
<g transform="translate(93.40,315.80) rotate(-90) scale(0.9493,1)" fill="#1a1a1a" class="an">
<text x="0.00" y="-3.30" font-size="7.20" font-style="italic">7</text>
<text x="4.40" y="0" font-size="10" font-style="italic">F</text>
<text x="10.51" y="3.40" font-size="7.20" font-style="italic">0</text>
<line x1="16.18" y1="-2.70" x2="23.79" y2="-2.70" stroke="#1a1a1a" stroke-width="1.0"/>
<path d="M25.55,-2.70 L22.61,-4.30 L22.61,-1.10 Z"/>
<text x="26.19" y="-3.30" font-size="7.20" font-style="italic">5</text>
<text x="30.59" y="0" font-size="10" font-style="italic">L</text>
<text x="36.15" y="3.40" font-size="7.20" font-style="italic">6</text>
</g>
<g transform="translate(111.70,345.00) rotate(-90) scale(0.9468,1)" fill="#1a1a1a" class="an">
<text x="0.00" y="-3.30" font-size="7.20" font-style="italic">7</text>
<text x="4.40" y="0" font-size="10" font-style="italic">F</text>
<text x="10.51" y="3.40" font-size="7.20" font-style="italic">0</text>
<line x1="16.18" y1="-2.70" x2="25.82" y2="-2.70" stroke="#1a1a1a" stroke-width="1.0"/>
<path d="M27.59,-2.70 L24.63,-4.30 L24.63,-1.10 Z"/>
<text x="28.22" y="-3.30" font-size="7.20" font-style="italic">5</text>
<text x="32.63" y="0" font-size="10" font-style="italic">D</text>
<text x="39.85" y="3.40" font-size="7.20" font-style="italic">2</text>
</g>
<g transform="translate(130.00,365.00) rotate(-90) scale(0.9921,1)" fill="#1a1a1a" class="an">
<text x="0.00" y="-3.30" font-size="7.20" font-style="italic">7</text>
<text x="4.40" y="0" font-size="10" font-style="italic">F</text>
<text x="10.51" y="3.40" font-size="7.20" font-style="italic">1</text>
<line x1="16.13" y1="-2.70" x2="26.63" y2="-2.70" stroke="#1a1a1a" stroke-width="1.0"/>
<path d="M28.32,-2.70 L25.50,-4.30 L25.50,-1.10 Z"/>
<text x="28.93" y="-3.30" font-size="7.20" font-style="italic">5</text>
<text x="33.33" y="0" font-size="10" font-style="italic">D</text>
<text x="40.55" y="3.40" font-size="7.20" font-style="italic">1</text>
</g>
<g transform="translate(553.00,314.10) rotate(-90) scale(0.9083,1)" fill="#1a1a1a" class="an">
<text x="0.00" y="-3.30" font-size="7.20" font-style="italic">7</text>
<text x="4.40" y="0" font-size="10" font-style="italic">F</text>
<text x="10.51" y="3.40" font-size="7.20" font-style="italic">0</text>
<line x1="16.24" y1="-2.70" x2="25.40" y2="-2.70" stroke="#1a1a1a" stroke-width="1.0"/>
<path d="M27.25,-2.70 L24.16,-4.30 L24.16,-1.10 Z"/>
<text x="27.91" y="-3.30" font-size="7.20" font-style="italic">5</text>
<text x="32.31" y="0" font-size="10" font-style="italic">L</text>
<text x="37.87" y="3.40" font-size="7.20" font-style="italic">6</text>
</g>
<g transform="translate(580.00,363.30) rotate(-90) scale(0.9727,1)" fill="#1a1a1a" class="an">
<text x="0.00" y="-3.30" font-size="7.20" font-style="italic">7</text>
<text x="4.40" y="0" font-size="10" font-style="italic">F</text>
<text x="10.51" y="3.40" font-size="7.20" font-style="italic">0</text>
<line x1="16.15" y1="-2.70" x2="25.42" y2="-2.70" stroke="#1a1a1a" stroke-width="1.0"/>
<path d="M27.15,-2.70 L24.27,-4.30 L24.27,-1.10 Z"/>
<text x="27.77" y="-3.30" font-size="7.20" font-style="italic">5</text>
<text x="32.17" y="0" font-size="10" font-style="italic">D</text>
<text x="39.39" y="3.40" font-size="7.20" font-style="italic">2</text>
</g>
<g transform="translate(633.00,370.50) rotate(-90) scale(0.9533,1)" fill="#1a1a1a" class="an">
<text x="0.00" y="-3.30" font-size="7.20" font-style="italic">5</text>
<text x="4.40" y="0" font-size="10" font-style="italic">D</text>
<text x="11.63" y="3.40" font-size="7.20" font-style="italic">0</text>
<line x1="17.29" y1="-2.70" x2="27.48" y2="-2.70" stroke="#1a1a1a" stroke-width="1.0"/>
<path d="M29.25,-2.70 L26.31,-4.30 L26.31,-1.10 Z"/>
<text x="29.88" y="-3.30" font-size="7.20" font-style="italic">7</text>
<text x="34.28" y="0" font-size="10" font-style="italic">F</text>
<text x="40.39" y="3.40" font-size="7.20" font-style="italic">1</text>
</g>
<g transform="translate(615.90,259.60) scale(0.9468,1)" fill="#1a1a1a" class="an">
<text x="0.00" y="-3.30" font-size="7.20" font-style="italic">5</text>
<text x="4.40" y="0" font-size="10" font-style="italic">D</text>
<text x="11.63" y="3.40" font-size="7.20" font-style="italic">0</text>
<line x1="17.30" y1="-2.70" x2="27.46" y2="-2.70" stroke="#1a1a1a" stroke-width="1.0"/>
<path d="M29.23,-2.70 L26.27,-4.30 L26.27,-1.10 Z"/>
<text x="29.87" y="-3.30" font-size="7.20" font-style="italic">7</text>
<text x="34.27" y="0" font-size="10" font-style="italic">F</text>
<text x="40.38" y="3.40" font-size="7.20" font-style="italic">2</text>
</g>
<g transform="translate(662.00,364.70) rotate(-90) scale(0.9285,1)" fill="#1a1a1a" class="an">
<text x="0.00" y="-3.30" font-size="7.20" font-style="italic">4</text>
<text x="4.40" y="0" font-size="10" font-style="italic">I</text>
<text x="7.18" y="3.40" font-size="7.20" font-style="italic">15/2</text>
<line x1="22.89" y1="-2.70" x2="34.43" y2="-2.70" stroke="#1a1a1a" stroke-width="1.0"/>
<path d="M36.24,-2.70 L33.23,-4.30 L33.23,-1.10 Z"/>
<text x="36.89" y="-3.30" font-size="7.20" font-style="italic">4</text>
<text x="41.29" y="0" font-size="10" font-style="italic">F</text>
<text x="47.40" y="3.40" font-size="7.20" font-style="italic">3</text>
</g>
</svg>
</body></html>
